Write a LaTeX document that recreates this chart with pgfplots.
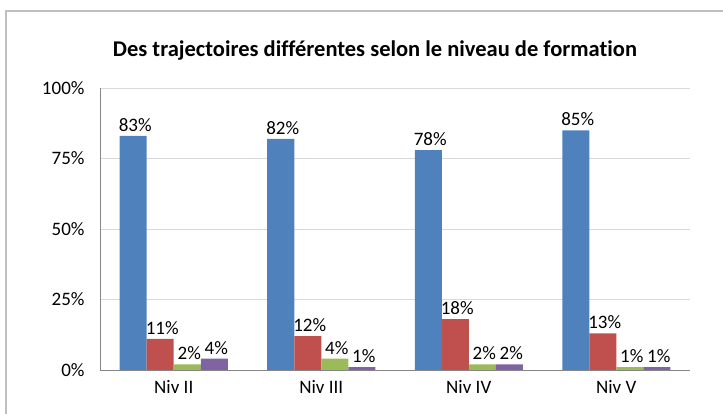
\documentclass[border=0pt]{standalone}
\usepackage{pgfplots}
\pgfplotsset{compat=1.18}
\usepackage{fontspec}
\setmainfont[Ligatures=NoCommon]{Carlito}
\definecolor{sBlue}{HTML}{4F81BD}
\definecolor{sRed}{HTML}{C0504D}
\definecolor{sGreen}{HTML}{9BBB59}
\definecolor{sPurple}{HTML}{8064A2}
\definecolor{axgray}{HTML}{868686}
\definecolor{gridgray}{HTML}{D9D9D9}
\begin{document}
\begin{tikzpicture}[x=1pt,y=1pt]
\path[use as bounding box] (0,0) rectangle (723,414);
\draw[gray!50, line width=1.5pt] (6,0) -- (6,403) -- (723,403);
\node[font=\bfseries\fontsize{22.5}{26}\selectfont] at (375,363) {Des trajectoires différentes selon le niveau de formation};
\begin{axis}[
  at={(100pt,44pt)}, anchor=south west,
  width=590pt, height=282pt, scale only axis,
  ybar=0pt, bar width=27pt,
  xmin=-0.5, xmax=3.5, ymin=0, ymax=100,
  xtick={0,1,2,3}, xticklabels={Niv II,Niv III,Niv IV,Niv V},
  ytick={0,25,50,75,100}, yticklabels={0\%,25\%,50\%,75\%,100\%},
  axis x line*=bottom, axis y line*=left,
  axis line style={axgray, line width=0.8pt},
  x axis line style={-}, y axis line style={-},
  major tick length=0pt,
  ymajorgrids, grid style={gridgray, line width=0.6pt},
  tick label style={font=\fontsize{19}{22}\selectfont, text=black},
  yticklabel style={xshift=-12pt},
  xticklabel style={yshift=-7pt},
  nodes near coords={\pgfmathprintnumber[assume math mode=true]{\pgfplotspointmeta}\%},
  every node near coord/.append style={font=\fontsize{19}{22}\selectfont, text=black, yshift=1pt, xshift=2pt},
  clip=false,
]
\addplot[fill=sBlue, draw=none] coordinates {(0,83) (1,82) (2,78) (3,85)};
\addplot[fill=sRed, draw=none] coordinates {(0,11) (1,12) (2,18) (3,13)};
\addplot[fill=sGreen, draw=none] coordinates {(0,2) (1,4) (2,2) (3,1)};
\addplot[fill=sPurple, draw=none] coordinates {(0,4) (1,1) (2,2) (3,1)};
\end{axis}
\end{tikzpicture}
\end{document}
